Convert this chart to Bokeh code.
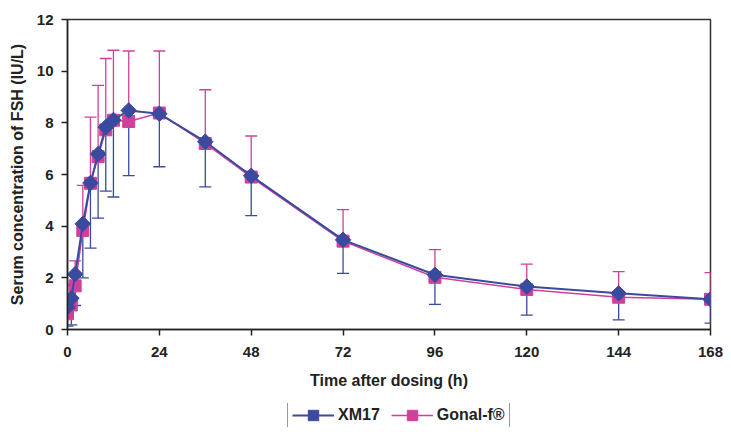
from bokeh.plotting import figure
from bokeh.layouts import column
from bokeh.models import (Range1d, FixedTicker, Whisker, TeeHead, ColumnDataSource,
                          Legend, LegendItem)
from bokeh.embed import file_html
from bokeh.resources import INLINE

time_h = [0, 1, 2, 4, 6, 8, 10, 12, 16, 24, 36, 48, 72, 96, 120, 144, 168]
xm17_mean = [0.87, 1.21, 2.14, 4.09, 5.67, 6.79, 7.83, 8.11, 8.48, 8.35, 7.27, 5.95, 3.47, 2.12, 1.66, 1.40, 1.17]
xm17_lower = [0.13, 0.18, 0.93, 2.00, 3.15, 4.31, 5.36, 5.13, 5.96, 6.30, 5.52, 4.41, 2.17, 0.97, 0.56, 0.37, 0.25]
gonal_mean = [0.61, 0.95, 1.69, 3.83, 5.66, 6.69, 7.73, 8.10, 8.05, 8.38, 7.20, 5.90, 3.42, 2.02, 1.55, 1.25, 1.17]
gonal_upper = [1.70, 1.75, 2.66, 5.58, 8.22, 9.45, 10.49, 10.81, 10.78, 10.78, 9.28, 7.49, 4.64, 3.09, 2.53, 2.24, 2.20]
x_ticks = [0, 24, 48, 72, 96, 120, 144, 168]
y_ticks = [0, 2, 4, 6, 8, 10, 12]
series_names = ["XM17", "Gonal-f\u00ae"]

BLUE = "#3a4a9e"
PINK = "#d0409a"
FONT = "Liberation Sans"

src = ColumnDataSource(dict(t=time_h, xm=xm17_mean, xl=xm17_lower,
                            gm=gonal_mean, gu=gonal_upper))

p = figure(frame_width=643, frame_height=310, x_range=Range1d(0, 168), y_range=Range1d(0, 12),
           output_backend="svg", toolbar_location=None,
           min_border_left=67, min_border_right=13, min_border_top=19, min_border_bottom=74)

p.grid.visible = False
p.outline_line_color = "#333333"
p.outline_line_width = 1.5
p.background_fill_color = "white"
p.border_fill_color = "white"

for ax in (p.xaxis, p.yaxis):
    ax.axis_line_color = "#222222"
    ax.axis_line_width = 1.5
    ax.major_tick_line_color = "#222222"
    ax.major_tick_line_width = 1.5
    ax.major_tick_out = 6
    ax.major_tick_in = 0
    ax.minor_tick_line_color = None
    ax.major_label_text_font = FONT
    ax.major_label_text_font_style = "bold"
    ax.major_label_text_font_size = "15px"
    ax.major_label_text_color = "#222222"
    ax.axis_label_text_font = FONT
    ax.axis_label_text_font_style = "bold"
    ax.axis_label_text_font_size = "16px"
    ax.axis_label_text_color = "#222222"

p.xaxis.ticker = FixedTicker(ticks=x_ticks)
p.yaxis.ticker = FixedTicker(ticks=y_ticks)
p.xaxis.axis_label = "Time after dosing (h)"
p.yaxis.axis_label = "Serum concentration of FSH (IU/L)"
p.xaxis.major_label_standoff = 11
p.yaxis.major_label_standoff = 8
p.xaxis.axis_label_standoff = 12
p.yaxis.axis_label_standoff = 8

# error bars
p.add_layout(Whisker(base="t", lower="gm", upper="gu", source=src,
                     line_color=PINK, line_width=1.3,
                     upper_head=TeeHead(size=12, line_color=PINK, line_width=1.3),
                     lower_head=None))
p.add_layout(Whisker(base="t", lower="xl", upper="xm", source=src,
                     line_color=BLUE, line_width=1.3,
                     lower_head=TeeHead(size=12, line_color=BLUE, line_width=1.3),
                     upper_head=None))

p.line("t", "gm", source=src, line_color=PINK, line_width=1.5)
p.scatter("t", "gm", source=src, marker="square", size=12,
          fill_color=PINK, line_color=PINK)
p.line("t", "xm", source=src, line_color=BLUE, line_width=2)
p.scatter("t", "xm", source=src, marker="square", size=11, angle=45,
          angle_units="deg", fill_color=BLUE, line_color=BLUE)

# legend strip below the chart (clipped at its bottom edge, as in the original);
# its renderers share the chart's data but lie outside this strip's ranges
lf = figure(width=723, height=24, x_range=Range1d(0, 1), y_range=Range1d(100, 101),
            x_axis_type=None, y_axis_type=None, output_backend="svg",
            toolbar_location=None, min_border=0)
lf.grid.visible = False
lf.outline_line_color = None
lf.border_fill_color = "white"
lbl = lf.line("t", "xm", source=src, line_color=BLUE, line_width=2)
lbs = lf.scatter("t", "xm", source=src, marker="square", size=11, angle=45,
                 angle_units="deg", fill_color=BLUE, line_color=BLUE)
lgl = lf.line("t", "gm", source=src, line_color=PINK, line_width=1.5)
lgs = lf.scatter("t", "gm", source=src, marker="square", size=12,
                 fill_color=PINK, line_color=PINK)

legend = Legend(items=[LegendItem(label=series_names[0], renderers=[lbl, lbs]),
                       LegendItem(label=series_names[1], renderers=[lgl, lgs])],
                orientation="horizontal", location=(220, -6))
legend.label_text_font = FONT
legend.label_text_font_style = "bold"
legend.label_text_font_size = "16px"
legend.label_text_color = "#222222"
legend.glyph_width = 42
legend.glyph_height = 26
legend.label_height = 18
legend.padding = 4
legend.spacing = 11
legend.margin = 0
legend.label_standoff = 4
legend.border_line_color = "#333333"
legend.border_line_width = 1.5
legend.background_fill_alpha = 1
lf.add_layout(legend, "center")

open("out.html", "w").write(file_html(column(p, lf, spacing=0), INLINE))
